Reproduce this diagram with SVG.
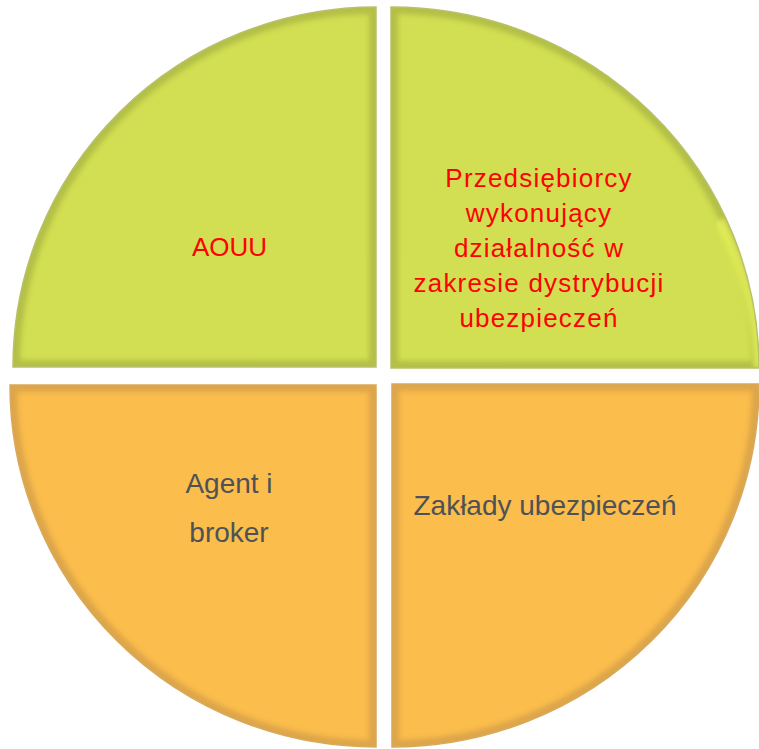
<svg xmlns="http://www.w3.org/2000/svg" width="759" height="749" viewBox="0 0 759 749">
  <defs>
    <style>
      .g { fill: #d2df52; }
      .o { fill: #fbbd4c; }
      .edgeG { fill: none; stroke: #8f9a3a; stroke-width: 14; opacity: 0.45; filter: url(#soft); }
      .edgeO { fill: none; stroke: #b8894a; stroke-width: 14; opacity: 0.45; filter: url(#soft); }
      .hiG { stroke: #f4ff5e; stroke-width: 10; filter: url(#soft); }
      .hiO { stroke: #ffe25a; stroke-width: 10; filter: url(#soft); }
      .rimG { fill: none; stroke: #b9c06a; stroke-width: 1.5; }
      .rimO { fill: none; stroke: #d9a95a; stroke-width: 1.5; }
      .red { font-family: "Liberation Sans", Arial, sans-serif; font-size: 26px; fill: #ff0000; text-anchor: middle; }
      .redw { letter-spacing: 1.2px; }
      .dark { font-family: "Liberation Sans", Arial, sans-serif; font-size: 28px; fill: #4e5257; text-anchor: middle; }
    </style>
    <filter id="soft" x="-10%" y="-10%" width="120%" height="120%">
      <feGaussianBlur stdDeviation="2.5"/>
    </filter>
    <clipPath id="cTL"><path d="M376,367 L13,367 A363,360 0 0 1 376,7 Z"/></clipPath>
    <clipPath id="cTR"><path d="M391,368 L391,7 A368,361 0 0 1 759,368 Z"/></clipPath>
    <clipPath id="cBL"><path d="M376,385 L376,747 A366,362 0 0 1 10,385 Z"/></clipPath>
    <clipPath id="cBR"><path d="M392,384 L759,384 A367,363 0 0 1 392,747 Z"/></clipPath>
  </defs>
  <rect width="759" height="749" fill="#ffffff"/>

  <g id="node-aouu">
    <g clip-path="url(#cTL)">
      <path class="g" d="M376,367 L13,367 A363,360 0 0 1 376,7 Z"/>
      <path class="edgeG" d="M376,367 L13,367 A363,360 0 0 1 376,7 Z"/>
      <line class="hiG" x1="378" y1="7" x2="378" y2="367"/>
    </g>
    <path class="rimG" d="M376,367 L13,367 A363,360 0 0 1 376,7 Z"/>
    <text class="red" x="229.5" y="256">AOUU</text>
  </g>

  <g id="node-przedsiebiorcy">
    <g clip-path="url(#cTR)">
      <path class="g" d="M391,368 L391,7 A368,361 0 0 1 759,368 Z"/>
      <path class="edgeG" d="M391,368 L391,7 A368,361 0 0 1 759,368 Z"/>
      <path class="hiG" fill="none" opacity="0.6" d="M720,220 A368,361 0 0 1 759,368"/>
    </g>
    <path class="rimG" d="M391,368 L391,7 A368,361 0 0 1 759,368 Z"/>
    <text class="red redw" x="539" y="187">Przedsiębiorcy</text>
    <text class="red redw" x="539" y="222">wykonujący</text>
    <text class="red redw" x="539" y="257">działalność w</text>
    <text class="red redw" x="539" y="292">zakresie dystrybucji</text>
    <text class="red redw" x="539" y="327">ubezpieczeń</text>
  </g>

  <g id="node-agent">
    <g clip-path="url(#cBL)">
      <path class="o" d="M376,385 L376,747 A366,362 0 0 1 10,385 Z"/>
      <path class="edgeO" d="M376,385 L376,747 A366,362 0 0 1 10,385 Z"/>
      <line class="hiO" x1="378" y1="385" x2="378" y2="747"/>
    </g>
    <path class="rimO" d="M376,385 L376,747 A366,362 0 0 1 10,385 Z"/>
    <text class="dark" x="229" y="493">Agent i</text>
    <text class="dark" x="229" y="542">broker</text>
  </g>

  <g id="node-zaklady">
    <g clip-path="url(#cBR)">
      <path class="o" d="M392,384 L759,384 A367,363 0 0 1 392,747 Z"/>
      <path class="edgeO" d="M392,384 L759,384 A367,363 0 0 1 392,747 Z"/>
    </g>
    <path class="rimO" d="M392,384 L759,384 A367,363 0 0 1 392,747 Z"/>
    <text class="dark" x="545" y="515">Zakłady ubezpieczeń</text>
  </g>

  <g id="connectors"/>
</svg>
